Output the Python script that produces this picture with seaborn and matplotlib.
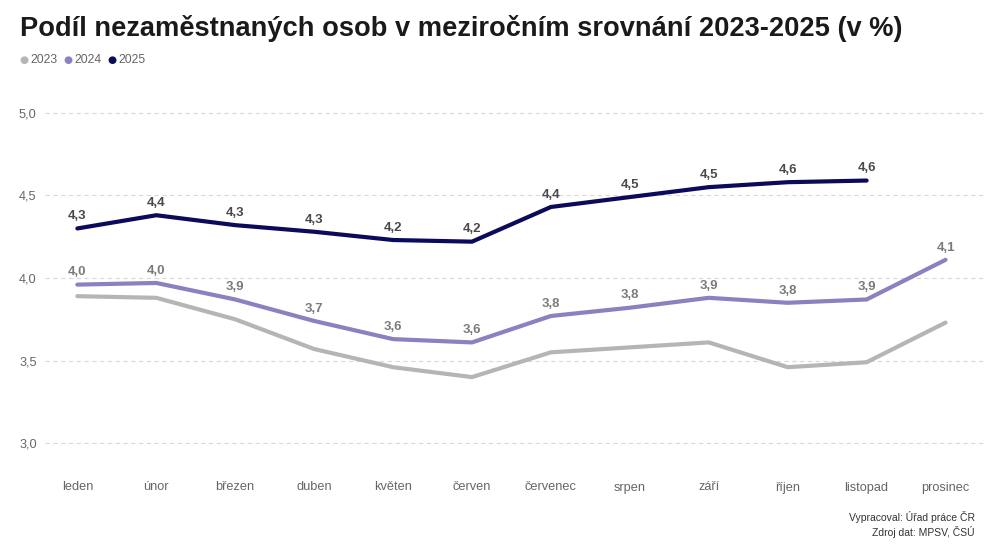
import pandas as pd
import matplotlib.pyplot as plt
import seaborn as sns

months = ['leden', 'únor', 'březen', 'duben', 'květen', 'červen',
          'červenec', 'srpen', 'září', 'říjen', 'listopad', 'prosinec']
v2023 = [3.89, 3.88, 3.75, 3.57, 3.46, 3.40, 3.55, 3.58, 3.61, 3.46, 3.49, 3.73]
v2024 = [3.96, 3.97, 3.87, 3.74, 3.63, 3.61, 3.77, 3.82, 3.88, 3.85, 3.87, 4.11]
v2025 = [4.30, 4.38, 4.32, 4.28, 4.23, 4.22, 4.43, 4.49, 4.55, 4.58, 4.59]
labels2024 = ['4,0', '4,0', '3,9', '3,7', '3,6', '3,6', '3,8', '3,8', '3,9', '3,8', '3,9', '4,1']
labels2025 = ['4,3', '4,4', '4,3', '4,3', '4,2', '4,2', '4,4', '4,5', '4,5', '4,6', '4,6']

colors = {'2023': '#b5b5b5', '2024': '#8b80c0', '2025': '#0c0a5a'}

# build long table for seaborn
rows = []
for year, vals in [('2023', v2023), ('2024', v2024), ('2025', v2025)]:
    for i, v in enumerate(vals):
        rows.append({'x': i, 'value': v, 'year': year})
df = pd.DataFrame(rows)

sns.set_style('white')
plt.rcParams['font.family'] = ['Liberation Sans', 'DejaVu Sans']

fig = plt.figure(figsize=(9.87, 5.47), dpi=100)
ax = fig.add_axes([45 / 987, 103 / 547, 940 / 987, 332 / 547])

sns.lineplot(data=df, x='x', y='value', hue='year', palette=colors,
             linewidth=3, legend=False, ax=ax, clip_on=False,
             solid_capstyle='round', solid_joinstyle='round')

# value labels
for i, (v, t) in enumerate(zip(v2024, labels2024)):
    ax.annotate(t, (i, v), xytext=(0, 4.5), textcoords='offset points',
                ha='center', va='bottom', fontsize=9.5, fontweight='bold', color='#7b7b7b')
for i, (v, t) in enumerate(zip(v2025, labels2025)):
    ax.annotate(t, (i, v), xytext=(0, 4.5), textcoords='offset points',
                ha='center', va='bottom', fontsize=9.5, fontweight='bold', color='#4a4a4a')

ax.set_xlim(-0.41, 11.5)
ax.set_ylim(2.995, 5.005)
ax.set_xticks(range(len(months)))
ax.set_xticklabels(months)
ax.set_yticks([3.0, 3.5, 4.0, 4.5, 5.0])
ax.set_yticklabels(['3,0', '3,5', '4,0', '4,5', '5,0'])
ax.tick_params(axis='x', length=0, pad=27, labelsize=9.2, labelcolor='#666666')
ax.tick_params(axis='y', length=0, pad=6, labelsize=9.2, labelcolor='#666666')
ax.set_xlabel('')
ax.set_ylabel('')
ax.grid(axis='y', color='#d9d9d9', linestyle=(0, (4, 3)), linewidth=0.8)
ax.set_axisbelow(True)
for s in ax.spines.values():
    s.set_visible(False)

# title and legend
fig.text(20 / 987, 1 - 29 / 547, 'Podíl nezaměstnaných osob v meziročním srovnání 2023-2025 (v %)',
         fontsize=19.6, fontweight='bold', color='#1a1a1a', va='center', ha='left')
lx = 24
for year in ['2023', '2024', '2025']:
    fig.text(lx / 987, 1 - 60 / 547, '●', fontsize=7.5, color=colors[year],
             va='center', ha='center', family=['DejaVu Sans'])
    fig.text((lx + 6) / 987, 1 - 60 / 547, year, fontsize=8.8, color='#666666',
             va='center', ha='left')
    lx += 44

# footer
fig.text(975 / 987, 1 - 517 / 547, 'Vypracoval: Úřad práce ČR', fontsize=7.5,
         color='#333333', ha='right', va='center')
fig.text(975 / 987, 1 - 532 / 547, 'Zdroj dat: MPSV, ČSÚ', fontsize=7.5,
         color='#333333', ha='right', va='center')

fig.savefig('out.png', dpi=100)
